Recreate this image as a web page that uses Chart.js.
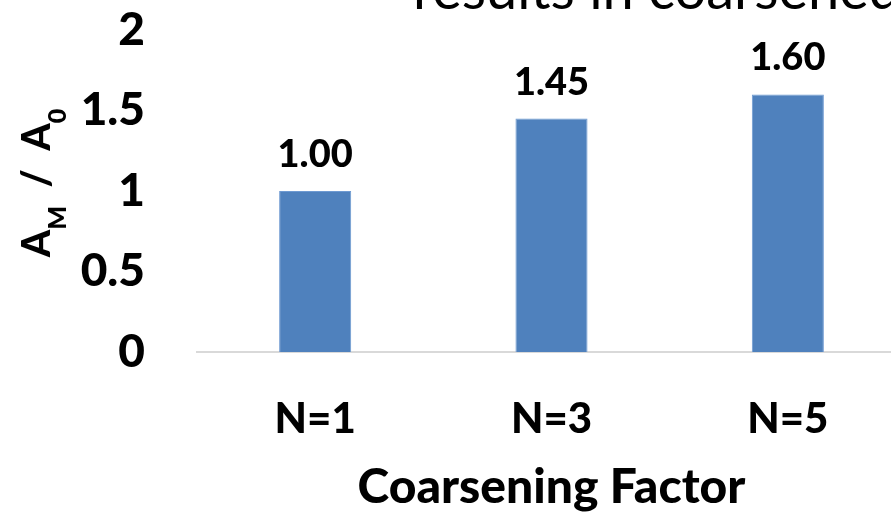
<!DOCTYPE html>
<html>
<head>
<meta charset="utf-8">
<script src="https://cdn.jsdelivr.net/npm/chart.js@4/dist/chart.umd.min.js"></script>
<style>
  html, body { margin: 0; padding: 0; background: #ffffff; overflow: hidden; }
  #wrap { position: relative; width: 906px; height: 516px; }
</style>
</head>
<body>
<div id="wrap"><canvas id="c"></canvas></div>
<script>
// Chart data
const categories = ['N=1', 'N=3', 'N=5'];
const ratioValues = [1.00, 1.45, 1.60];
const yTicks = [0, 0.5, 1, 1.5, 2];
const chartTitle = 'results in coarsened';
const xAxisTitle = 'Coarsening Factor';

const FONT = 'Lato, "Open Sans", "DejaVu Sans", sans-serif';
const HEAVY = 900;

// Value labels above each bar
const valueLabels = {
  id: 'valueLabels',
  afterDatasetsDraw(chart) {
    const ctx = chart.ctx;
    const meta = chart.getDatasetMeta(0);
    ctx.save();
    ctx.font = HEAVY + ' 38px ' + FONT;
    ctx.fillStyle = '#000000';
    ctx.textAlign = 'center';
    ctx.textBaseline = 'alphabetic';
    meta.data.forEach((bar, i) => {
      ctx.fillText(ratioValues[i].toFixed(2), bar.x, bar.y - 24);
    });
    ctx.restore();
  }
};

// Y axis title with subscripts (A_M / A_0) and the chart title along the top edge
const extraText = {
  id: 'extraText',
  afterDraw(chart) {
    const ctx = chart.ctx;
    ctx.save();
    ctx.font = '56px ' + FONT;
    ctx.fillStyle = '#000000';
    ctx.textAlign = 'left';
    ctx.textBaseline = 'alphabetic';
    ctx.fillText(chartTitle, 413, 9);

    const parts = [
      { t: 'A', sub: false },
      { t: 'M', sub: true },
      { t: '  /  A', sub: false },
      { t: '0', sub: true }
    ];
    const big = HEAVY + ' 39px ' + FONT;
    const small = HEAVY + ' 25px ' + FONT;
    let total = 0;
    parts.forEach(p => { ctx.font = p.sub ? small : big; p.w = ctx.measureText(p.t).width; total += p.w; });
    ctx.translate(50, 183);
    ctx.rotate(-Math.PI / 2);
    let x = -total / 2;
    parts.forEach(p => {
      ctx.font = p.sub ? small : big;
      ctx.fillText(p.t, x, p.sub ? 16 : 0);
      x += p.w;
    });
    ctx.restore();
  }
};

new Chart(document.getElementById('c'), {
  type: 'bar',
  data: {
    labels: categories,
    datasets: [{
      data: ratioValues,
      backgroundColor: '#4F81BD',
      borderColor: '#6E9AD2',
      borderWidth: 1,
      barPercentage: 0.305,
      categoryPercentage: 1.0
    }]
  },
  options: {
    responsive: true,
    maintainAspectRatio: false,
    animation: false,
    layout: { padding: { left: 0, right: 0, top: 30, bottom: 0 } },
    plugins: {
      legend: { display: false },
      tooltip: { enabled: false },
      title: { display: false }
    },
    scales: {
      x: {
        afterFit(scale) { scale.height = 164; },
        grid: { display: false, drawTicks: false },
        border: { display: true, color: '#D9D9D9', width: 2 },
        ticks: {
          color: '#000000',
          font: { family: FONT, size: 42, weight: HEAVY },
          padding: 42
        },
        title: {
          display: true,
          text: xAxisTitle,
          color: '#000000',
          font: { family: FONT, size: 48, weight: HEAVY },
          padding: { top: 0, bottom: 0 }
        }
      },
      y: {
        min: 0,
        max: 2,
        afterFit(scale) {
          scale.width = 197;
          scale.paddingTop = 0;
          scale.paddingBottom = 0;
        },
        afterBuildTicks(scale) { scale.ticks = yTicks.map(v => ({ value: v })); },
        grid: { display: false, drawTicks: false },
        border: { display: false },
        ticks: {
          color: '#000000',
          font: { family: FONT, size: 46, weight: HEAVY },
          padding: 52,
          callback: v => String(v)
        }
      }
    }
  },
  plugins: [valueLabels, extraText]
});
</script>
</body>
</html>
